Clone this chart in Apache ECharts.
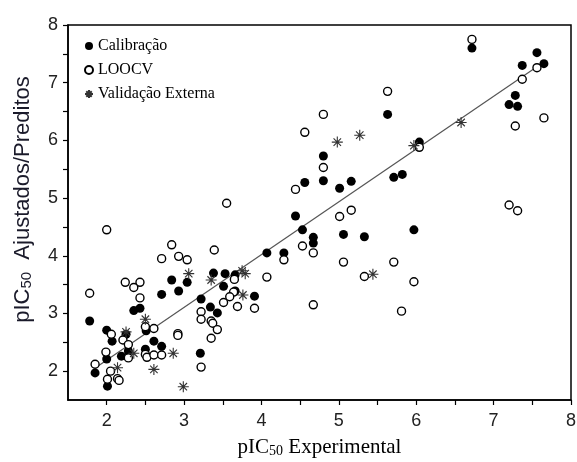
<!DOCTYPE html>
<html>
<head>
<meta charset="utf-8">
<script src="https://cdn.jsdelivr.net/npm/echarts@6/dist/echarts.min.js"></script>
<style>
html,body{margin:0;padding:0;background:#fff;}
#chart{width:577px;height:462px;}
</style>
</head>
<body>
<div id="chart"></div>
<script>
// Series names
const seriesNames = ['Calibração', 'LOOCV', 'Validação Externa'];

// Calibração (filled circles): [experimental, predicted]
const calibracao = [
  [6.72,7.60],[7.56,7.52],[7.65,7.33],[7.37,7.30],[7.28,6.78],[7.20,6.62],[7.31,6.59],
  [5.63,6.45],[6.04,5.97],[5.82,5.41],[5.71,5.36],[5.97,4.45],[4.80,5.73],[4.80,5.30],
  [4.56,5.27],[5.01,5.17],[5.16,5.29],[4.44,4.69],[4.53,4.45],[4.67,4.32],[4.67,4.22],
  [5.06,4.37],[5.33,4.33],[4.07,4.05],[4.29,4.05],
  [3.04,3.54],[2.84,3.58],[2.93,3.39],[2.71,3.33],[3.38,3.70],[3.53,3.69],[3.51,3.47],
  [3.66,3.67],[3.66,3.39],[3.91,3.30],[3.22,3.25],[3.34,3.11],[3.43,3.01],[3.21,2.31],
  [2.35,3.05],[2.43,3.09],
  [1.78,2.87],[2.00,2.71],[2.07,2.52],[2.25,2.64],[2.28,2.35],[2.19,2.26],[2.00,2.21],
  [1.85,1.97],[2.01,1.74],[2.51,2.70],[2.61,2.52],[2.50,2.38],[2.71,2.43]
];

// LOOCV (open circles)
const loocv = [
  [6.72,7.75],[7.56,7.26],[7.37,7.06],[7.65,6.39],[7.28,6.25],[6.04,5.88],[7.20,4.88],
  [7.31,4.78],[5.63,6.85],[4.80,6.45],[4.56,6.14],[4.80,5.53],[4.44,5.15],[5.01,4.68],
  [5.16,4.79],[4.53,4.17],[4.67,4.05],[5.06,3.89],[5.33,3.64],[5.71,3.89],[5.97,3.55],
  [4.67,3.15],[5.81,3.04],[4.29,3.93],[4.07,3.63],[3.55,4.91],[3.39,4.10],[2.00,4.45],
  [2.84,4.19],[2.71,3.95],[2.93,3.99],[3.04,3.93],[2.24,3.54],[2.43,3.54],[2.35,3.45],
  [2.43,3.27],[1.78,3.35],[3.65,3.59],[3.64,3.37],[3.59,3.29],[3.51,3.19],[3.69,3.12],
  [3.91,3.09],[3.22,3.03],[3.22,2.90],[3.35,2.87],[3.37,2.83],[3.43,2.72],[3.35,2.57],
  [3.22,2.07],[2.92,2.65],[2.92,2.62],[2.06,2.64],[2.21,2.54],[2.28,2.46],[2.28,2.23],
  [1.99,2.33],[2.05,2.00],[1.85,2.12],[2.01,1.86],[2.14,1.87],[2.16,1.84],[2.50,2.77],
  [2.61,2.74],[2.50,2.29],[2.52,2.24],[2.61,2.28],[2.71,2.28]
];

// Validação Externa (asterisks)
const validacaoExterna = [
  [6.58,6.31],[5.97,5.91],[4.98,5.97],[5.27,6.09],[5.44,3.68],[3.06,3.69],[3.35,3.58],
  [3.75,3.74],[3.79,3.69],[3.76,3.32],[2.50,2.90],[2.25,2.68],[2.35,2.31],[2.14,2.06],
  [2.61,2.03],[2.86,2.31],[2.99,1.73]
];

// Regression line end points
const fitLine = [[1.87,2.07],[7.65,7.36]];

// Axis ticks
const tickValues = [2,2.5,3,3.5,4,4.5,5,5.5,6,6.5,7,7.5,8];
const labelValues = [2,3,4,5,6,7,8];

const chart = echarts.init(document.getElementById('chart'), null, {renderer:'canvas'});

const asteriskPath = 'path://M5,0L5,10M0,5L10,5M1.6,1.6L8.4,8.4M1.6,8.4L8.4,1.6';

function labelCfg(margin) {
  return {
    show: true, fontFamily: 'Liberation Sans, Arial, sans-serif', fontSize: 18, color: '#222', margin: margin,
    customValues: labelValues,
    formatter: v => (Math.abs(v - Math.round(v)) < 1e-9 ? String(Math.round(v)) : '')
  };
}

function makeAxis(extra) {
  return Object.assign({
    type: 'value', min: 1.5, max: 8, interval: 0.5,
    axisLine: {show: true, onZero: false, lineStyle: {color: '#000', width: 1.5}},
    axisTick: {show: true, inside: false, length: 5, lineStyle: {color: '#000', width: 1.2}, customValues: tickValues},
    splitLine: {show: false}
  }, extra);
}

const option = {
  backgroundColor: '#fff',
  animation: false,
  grid: {left: 68, right: 6, top: 25, bottom: 62, show: true, borderColor: '#000', borderWidth: 1.5, containLabel: false, outerBoundsMode: 'none'},
  legend: {
    data: seriesNames,
    orient: 'vertical', left: 79, top: 33,
    itemWidth: 8, itemHeight: 8, itemGap: 8,
    textStyle: {fontFamily: 'Liberation Serif, Times New Roman, serif', fontSize: 16, color: '#000', lineHeight: 16},
    selectedMode: false
  },
  xAxis: makeAxis({
    axisLabel: labelCfg(12),
    name: '{m|pIC}{s|50}{m| Experimental}', nameLocation: 'middle', nameGap: 36,
    nameTextStyle: {
      rich: {
        m: {fontFamily: 'Liberation Serif, Times New Roman, serif', fontSize: 21, color: '#000'},
        s: {fontFamily: 'Liberation Serif, Times New Roman, serif', fontSize: 14, color: '#000', padding: [8,0,0,0]}
      }
    }
  }),
  yAxis: makeAxis({
    axisLabel: labelCfg(10),
    name: '{m|pIC}{s|50}{m|  Ajustados/Preditos}', nameLocation: 'middle', nameGap: 34, nameRotate: 90,
    nameTextStyle: {
      padding: [0,0,0,26],
      rich: {
        m: {fontFamily: 'Liberation Sans, Arial, sans-serif', fontSize: 22, color: '#1a1a2a'},
        s: {fontFamily: 'Liberation Sans, Arial, sans-serif', fontSize: 15, color: '#1a1a2a', padding: [8,0,0,0]}
      }
    }
  }),
  series: [
    {
      name: 'fit', type: 'line', data: fitLine, symbol: 'none', silent: true,
      lineStyle: {color: '#555', width: 1.2}, z: 1
    },
    {
      name: seriesNames[0], type: 'scatter', data: calibracao, symbol: 'circle', symbolSize: 9,
      itemStyle: {color: '#000', opacity: 1}, z: 3
    },
    {
      name: seriesNames[1], type: 'scatter', data: loocv, symbol: 'circle', symbolSize: 8,
      itemStyle: {color: '#fff', borderColor: '#000', borderWidth: 1.4, opacity: 1}, z: 4
    },
    {
      name: seriesNames[2], type: 'scatter', data: validacaoExterna, symbol: asteriskPath, symbolSize: 11,
      itemStyle: {color: 'rgba(0,0,0,0)', borderColor: '#333', borderWidth: 1.1, opacity: 1}, z: 5
    }
  ]
};

chart.setOption(option);
</script>
</body>
</html>
